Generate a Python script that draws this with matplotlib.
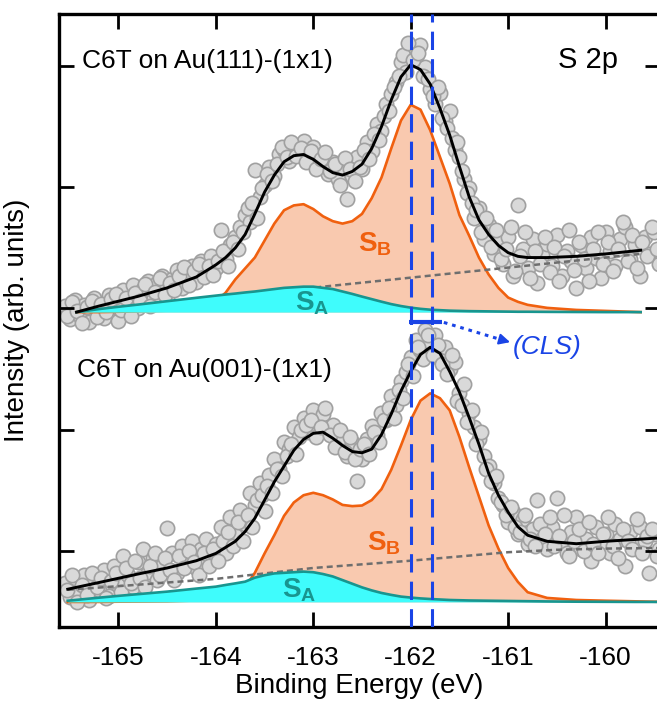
import matplotlib
matplotlib.use("Agg")
from matplotlib import pyplot as plt

plt.rcParams["font.family"] = ["Liberation Sans", "DejaVu Sans"]
plt.rcParams["axes.unicode_minus"] = False
plt.rcParams["mathtext.fontset"] = "custom"
plt.rcParams["mathtext.rm"] = "Liberation Sans"
plt.rcParams["mathtext.bf"] = "Liberation Sans:bold"

# measured points (binding energy, eV) shared by both spectra: the scan
# is split in two interleaved halves, "a" and "b"
scan_energy_a = [
    -165.55, -165.50, -165.45, -165.40, -165.35, -165.30, -165.25, -165.20, -165.15, -165.10,
    -165.05, -165.00, -164.95, -164.90, -164.85, -164.80, -164.75, -164.70, -164.65, -164.60,
    -164.55, -164.50, -164.45, -164.40, -164.35, -164.30, -164.25, -164.20, -164.15, -164.10,
    -164.05, -164.00, -163.95, -163.90, -163.85, -163.80, -163.75, -163.70, -163.65, -163.60,
    -163.55, -163.50, -163.45, -163.40, -163.35, -163.30, -163.25, -163.20, -163.15, -163.10,
    -163.05, -163.00, -162.95, -162.90, -162.85, -162.80, -162.75, -162.70, -162.65, -162.60,
    -162.55, -162.50, -162.45, -162.40, -162.35, -162.30, -162.25, -162.20, -162.15, -162.10,
    -162.05, -162.00, -161.95, -161.90, -161.85, -161.80, -161.75, -161.70, -161.65, -161.60,
    -161.55, -161.50, -161.45, -161.40, -161.35, -161.30, -161.25, -161.20, -161.15, -161.10,
    -161.05, -161.00, -160.95, -160.90, -160.85, -160.80, -160.75, -160.70, -160.65, -160.60,
    -160.55, -160.50, -160.45, -160.40, -160.35, -160.30, -160.25, -160.20, -160.15, -160.10,
    -160.05, -160.00, -159.95, -159.90, -159.85, -159.80, -159.75, -159.70, -159.65, -159.60,
    -159.55, -159.50, -159.45,
]
scan_energy_b = [
    -165.525, -165.475, -165.425, -165.375, -165.325, -165.275, -165.225, -165.175, -165.125, -165.075,
    -165.025, -164.975, -164.925, -164.875, -164.825, -164.775, -164.725, -164.675, -164.625, -164.575,
    -164.525, -164.475, -164.425, -164.375, -164.325, -164.275, -164.225, -164.175, -164.125, -164.075,
    -164.025, -163.975, -163.925, -163.875, -163.825, -163.775, -163.725, -163.675, -163.625, -163.575,
    -163.525, -163.475, -163.425, -163.375, -163.325, -163.275, -163.225, -163.175, -163.125, -163.075,
    -163.025, -162.975, -162.925, -162.875, -162.825, -162.775, -162.725, -162.675, -162.625, -162.575,
    -162.525, -162.475, -162.425, -162.375, -162.325, -162.275, -162.225, -162.175, -162.125, -162.075,
    -162.025, -161.975, -161.925, -161.875, -161.825, -161.775, -161.725, -161.675, -161.625, -161.575,
    -161.525, -161.475, -161.425, -161.375, -161.325, -161.275, -161.225, -161.175, -161.125, -161.075,
    -161.025, -160.975, -160.925, -160.875, -160.825, -160.775, -160.725, -160.675, -160.625, -160.575,
    -160.525, -160.475, -160.425, -160.375, -160.325, -160.275, -160.225, -160.175, -160.125, -160.075,
    -160.025, -159.975, -159.925, -159.875, -159.825, -159.775, -159.725, -159.675, -159.625, -159.575,
    -159.525, -159.475,
]

# --- C6T on Au(111)-(1x1) -------------------------------------------------
au111_counts_a = [
    0.05, -0.06, 0.10, -0.02, 0.06, -0.08, 0.12, 0.02, -0.05, 0.14,
    0.04, -0.07, 0.18, 0.07, 0.22, 0.03, 0.19, 0.26, 0.10, 0.24,
    0.30, 0.12, 0.27, 0.35, 0.20, 0.31, 0.38, 0.25, 0.42, 0.33,
    0.46, 0.36, 0.68, 0.44, 0.55, 0.62, 0.70, 0.80, 0.74, 1.17,
    0.95, 1.05, 1.20, 1.12, 1.30, 1.34, 1.25, 1.38, 1.33, 1.41,
    1.30, 1.36, 1.22, 1.30, 1.14, 1.24, 1.10, 1.20, 0.93, 1.12,
    1.28, 1.18, 1.40, 1.33, 1.55, 1.49, 1.72, 1.80, 1.90, 2.06,
    1.98, 2.17, 2.10, 2.20, 2.02, 1.84, 1.72, 1.81, 1.58, 1.66,
    1.34, 1.28, 1.10, 1.02, 0.78, 0.86, 0.60, 0.72, 0.48, 0.58,
    0.40, 0.62, 0.30, 0.88, 0.52, 0.36, 0.60, 0.24, 0.47, 0.56,
    0.38, 0.64, 0.30, 0.50, 0.42, 0.20, 0.55, 0.36, 0.62, 0.45,
    0.28, 0.66, 0.50, 0.38, 0.60, 0.70, 0.44, 0.55, 0.30, 0.62,
    0.48, 0.66, 0.40,
]
au111_counts_b = [
    -0.03, 0.08, 0.01, -0.09, 0.04, 0.09, -0.04, 0.07, 0.00, 0.11,
    0.15, 0.02, 0.12, -0.03, 0.16, 0.09, 0.23, 0.05, 0.17, 0.28,
    0.14, 0.24, 0.18, 0.30, 0.37, 0.22, 0.34, 0.40, 0.29, 0.38,
    0.31, 0.42, 0.50, 0.38, 0.58, 0.52, 0.66, 0.86, 0.90, 0.78,
    1.02, 1.14, 1.08, 1.22, 1.36, 1.28, 1.40, 1.29, 1.35, 1.24,
    1.33, 1.18, 1.26, 1.32, 1.16, 1.22, 1.05, 1.27, 1.18, 1.08,
    1.20, 1.34, 1.26, 1.47, 1.42, 1.62, 1.66, 1.86, 1.95, 2.12,
    2.22, 2.08, 2.14, 1.95, 1.92, 1.78, 1.86, 1.60, 1.52, 1.44,
    1.40, 1.16, 0.98, 0.90, 0.84, 0.66, 0.78, 0.54, 0.68, 0.44,
    0.52, 0.70, 0.34, 0.46, 0.66, 0.28, 0.50, 0.40, 0.62, 0.33,
    0.54, 0.26, 0.46, 0.68, 0.35, 0.58, 0.44, 0.26, 0.52, 0.66,
    0.40, 0.58, 0.34, 0.52, 0.74, 0.42, 0.64, 0.36, 0.58, 0.46,
    0.70, 0.52,
]

au111_fit_energy = [
    -165.43, -165.2, -165.0, -164.8, -164.5, -164.2, -164.0, -163.9, -163.8, -163.7,
    -163.6, -163.5, -163.4, -163.3, -163.2, -163.1, -163.0, -162.9, -162.8, -162.7,
    -162.6, -162.5, -162.4, -162.3, -162.2, -162.1, -162.0, -161.9, -161.8, -161.7,
    -161.6, -161.5, -161.4, -161.3, -161.2, -161.1, -161.0, -160.9, -160.8, -160.6,
    -160.3, -160.0, -159.64,
]
au111_envelope = [
    0.00, 0.05, 0.09, 0.13, 0.20, 0.29, 0.39, 0.45, 0.53, 0.64,
    0.81, 0.99, 1.13, 1.24, 1.29, 1.30, 1.26, 1.20, 1.15, 1.13,
    1.16, 1.22, 1.35, 1.53, 1.75, 1.94, 2.04, 2.00, 1.88, 1.68,
    1.46, 1.20, 0.95, 0.76, 0.64, 0.55, 0.49, 0.46, 0.45, 0.45,
    0.46, 0.48, 0.51,
]
au111_sb = [
    0.0, 0.0, 0.003, 0.006, 0.012, 0.04, 0.09, 0.16, 0.27, 0.36,
    0.45, 0.59, 0.73, 0.84, 0.88, 0.89, 0.85, 0.79, 0.75, 0.73,
    0.75, 0.81, 0.94, 1.11, 1.35, 1.58, 1.71, 1.67, 1.50, 1.28,
    1.06, 0.80, 0.63, 0.45, 0.31, 0.20, 0.12, 0.085, 0.06, 0.035,
    0.018, 0.01, 0.0,
]
au111_sa = [
    0.0, 0.025, 0.044, 0.062, 0.09, 0.118, 0.136, 0.145, 0.153, 0.162,
    0.17, 0.18, 0.19, 0.20, 0.205, 0.21, 0.21, 0.20, 0.19, 0.17,
    0.15, 0.128, 0.107, 0.086, 0.066, 0.05, 0.037, 0.027, 0.02, 0.016,
    0.012, 0.01, 0.008, 0.007, 0.006, 0.005, 0.004, 0.003, 0.003, 0.002,
    0.001, 0.0, 0.0,
]
au111_bg_energy = [-165.43, -159.64]
au111_bg = [0.0, 0.48]

# --- C6T on Au(001)-(1x1) -------------------------------------------------
au001_counts_a = [
    0.16, 0.04, 0.20, 0.08, 0.22, 0.02, 0.18, 0.10, 0.26, 0.05,
    0.30, 0.14, 0.38, 0.22, 0.12, 0.33, 0.44, 0.25, 0.36, 0.18,
    0.30, 0.61, 0.40, 0.24, 0.46, 0.34, 0.50, 0.28, 0.44, 0.52,
    0.36, 0.48, 0.62, 0.40, 0.70, 0.55, 0.76, 0.64, 0.90, 0.80,
    0.98, 0.75, 1.05, 1.18, 1.10, 1.32, 1.26, 1.44, 1.36, 1.52,
    1.40, 1.58, 1.48, 1.55, 1.42, 1.46, 1.30, 1.36, 1.20, 1.32,
    1.00, 1.18, 1.34, 1.45, 1.38, 1.56, 1.50, 1.70, 1.62, 1.82,
    1.90, 2.02, 2.16, 2.08, 2.24, 2.14, 2.20, 2.00, 2.10, 1.92,
    1.98, 1.72, 1.80, 1.56, 1.44, 1.34, 1.20, 1.12, 0.98, 0.86,
    0.80, 0.66, 0.74, 0.56, 0.68, 0.48, 0.60, 0.84, 0.52, 0.44,
    0.62, 0.86, 0.50, 0.40, 0.58, 0.70, 0.44, 0.52, 0.34, 0.62,
    0.48, 0.56, 0.40, 0.64, 0.52, 0.30, 0.58, 0.46, 0.62, 0.50,
    0.24, 0.56, 0.44,
]
au001_counts_b = [
    0.10, 0.22, 0.00, 0.14, 0.06, 0.24, 0.12, 0.20, 0.03, 0.17,
    0.24, 0.08, 0.28, 0.16, 0.34, 0.20, 0.12, 0.30, 0.40, 0.22,
    0.36, 0.26, 0.18, 0.38, 0.28, 0.42, 0.33, 0.22, 0.40, 0.30,
    0.44, 0.34, 0.50, 0.58, 0.46, 0.66, 0.50, 0.72, 0.62, 0.84,
    0.88, 0.96, 0.90, 1.10, 1.04, 1.20, 1.30, 1.22, 1.42, 1.46,
    1.50, 1.36, 1.44, 1.60, 1.38, 1.28, 1.42, 1.24, 1.36, 1.18,
    1.26, 1.30, 1.22, 1.40, 1.32, 1.50, 1.60, 1.52, 1.75, 1.68,
    1.96, 1.86, 2.10, 2.00, 2.20, 2.04, 2.12, 1.96, 1.88, 2.04,
    1.66, 1.62, 1.48, 1.58, 1.30, 1.40, 1.10, 1.00, 1.04, 0.82,
    0.72, 0.78, 0.62, 0.58, 0.72, 0.52, 0.46, 0.64, 0.56, 0.70,
    0.46, 0.54, 0.72, 0.38, 0.50, 0.60, 0.42, 0.66, 0.48, 0.40,
    0.56, 0.70, 0.46, 0.36, 0.60, 0.50, 0.44, 0.68, 0.40, 0.54,
    0.60, 0.38,
]

au001_fit_energy = [
    -165.52, -165.2, -165.0, -164.8, -164.5, -164.2, -164.0, -163.9, -163.8, -163.7,
    -163.6, -163.5, -163.4, -163.3, -163.2, -163.1, -163.0, -162.9, -162.8, -162.7,
    -162.6, -162.5, -162.4, -162.3, -162.2, -162.1, -162.0, -161.9, -161.8, -161.7,
    -161.6, -161.5, -161.4, -161.3, -161.2, -161.1, -161.0, -160.9, -160.8, -160.6,
    -160.3, -160.0, -159.7, -159.4,
]
au001_envelope = [
    0.105, 0.16, 0.195, 0.23, 0.28, 0.34, 0.40, 0.45, 0.50, 0.58,
    0.69, 0.84, 0.99, 1.12, 1.25, 1.34, 1.39, 1.40, 1.35, 1.29,
    1.24, 1.23, 1.26, 1.38, 1.55, 1.74, 1.90, 2.04, 2.10, 2.05,
    1.90, 1.73, 1.52, 1.30, 1.06, 0.88, 0.74, 0.62, 0.55, 0.50,
    0.48, 0.50, 0.515, 0.53,
]
au001_sb = [
    0.0, 0.0, 0.002, 0.003, 0.005, 0.012, 0.02, 0.035, 0.06, 0.12,
    0.24, 0.40, 0.55, 0.71, 0.82, 0.88, 0.90, 0.88, 0.845, 0.80,
    0.79, 0.795, 0.84, 0.93, 1.09, 1.29, 1.50, 1.66, 1.72, 1.68,
    1.58, 1.36, 1.11, 0.87, 0.63, 0.44, 0.28, 0.165, 0.08, 0.033,
    0.016, 0.01, 0.005, 0.0,
]
au001_sa = [
    0.01, 0.035, 0.05, 0.064, 0.085, 0.11, 0.126, 0.14, 0.153, 0.167,
    0.20, 0.22, 0.235, 0.24, 0.245, 0.25, 0.245, 0.23, 0.21, 0.18,
    0.15, 0.12, 0.095, 0.074, 0.058, 0.044, 0.036, 0.029, 0.024, 0.02,
    0.016, 0.014, 0.012, 0.011, 0.01, 0.009, 0.008, 0.007, 0.006, 0.004,
    0.002, 0.001, 0.0, 0.0,
]
au001_bg_energy = [-165.52, -165.0, -164.5, -164.0, -163.5, -163.0, -162.5,
                   -162.0, -161.5, -161.0, -160.5, -160.0, -159.4]
au001_bg = [0.10, 0.13, 0.16, 0.19, 0.235, 0.28, 0.31, 0.34, 0.375, 0.41,
            0.43, 0.44, 0.445]

# S 2p3/2 positions of the two surfaces (core level shift)
peak_111 = -162.0
peak_001 = -161.78

# vertical stacking of the two spectra
offset_111 = 2.97
offset_001 = 0.58

BLUE = "#1a44e6"


def shifted(values, offset):
    return [offset + v for v in values]


def draw_spectrum(ax, counts_a, counts_b, fit_e, envelope, sb, sa, bg_e, bg, offset):
    # raw data sits underneath the fitted components
    for energy, counts in ((scan_energy_a, counts_a), (scan_energy_b, counts_b)):
        ax.plot(energy, shifted(counts, offset), "o", ms=10.3, mfc="#d9d9d9",
                mec="#a0a0a0", mew=1.2, zorder=1.5)
    ax.fill_between(fit_e, offset, shifted(sb, offset), color="#f9c9af", lw=0, zorder=2)
    ax.plot(fit_e, shifted(sb, offset), color="#f0600f", lw=1.9, zorder=2.2)
    ax.plot(bg_e, shifted(bg, offset), color="#6e6e6e", lw=1.8,
            ls=(0, (2.4, 1.6)), zorder=2.5)
    ax.fill_between(fit_e, offset, shifted(sa, offset), color="#3ffcfc", lw=0, zorder=3)
    ax.plot(fit_e, shifted(sa, offset), color="#18958f", lw=1.9, zorder=3.2)
    ax.plot(fit_e, shifted(envelope, offset), color="black", lw=2.1, zorder=5)


fig = plt.figure(figsize=(6.57, 7.02), dpi=100)
ax = fig.add_axes([0.0898, 0.1068, 0.915, 0.873])

draw_spectrum(ax, au111_counts_a, au111_counts_b, au111_fit_energy, au111_envelope,
              au111_sb, au111_sa, au111_bg_energy, au111_bg, offset_111)
draw_spectrum(ax, au001_counts_a, au001_counts_b, au001_fit_energy, au001_envelope,
              au001_sb, au001_sa, au001_bg_energy, au001_bg, offset_001)

# core level shift markers
for x in (peak_111, peak_001):
    ax.axvline(x, color=BLUE, lw=2.2, ls=(0, (6, 3)), zorder=6)
ax.plot([peak_111 - 0.02, peak_001 + 0.1], [2.888, 2.888], color=BLUE,
        lw=3.0, solid_capstyle="butt", zorder=6)
ax.plot([peak_001 + 0.12, -161.04], [2.885, 2.735], color=BLUE, lw=2.2,
        ls=(0, (1.2, 1.6)), zorder=6)
ax.annotate("", xy=(-160.98, 2.722), xytext=(-161.06, 2.74),
            arrowprops=dict(arrowstyle="-|>", color=BLUE, lw=1.5,
                            mutation_scale=16, shrinkA=0, shrinkB=0), zorder=6)
ax.text(-160.60, 2.68, "(CLS)", color=BLUE, fontsize=19, style="italic",
        ha="center", va="center", zorder=6)

# annotations
ax.text(-165.37, 5.04, "C6T on Au(111)-(1x1)", fontsize=19, ha="left", va="center")
ax.text(-165.43, 2.49, "C6T on Au(001)-(1x1)", fontsize=19, ha="left", va="center")
ax.text(-160.18, 5.05, "S 2p", fontsize=21, ha="center", va="center")
ax.text(-162.37, 3.53, r"$\mathbf{S_B}$", color="#f0600f", fontsize=20,
        ha="center", va="center", zorder=7)
ax.text(-163.01, 3.04, r"$\mathbf{S_A}$", color="#18958f", fontsize=20,
        ha="center", va="center", zorder=7)
ax.text(-162.27, 1.066, r"$\mathbf{S_B}$", color="#f0600f", fontsize=20,
        ha="center", va="center", zorder=7)
ax.text(-163.15, 0.68, r"$\mathbf{S_A}$", color="#18958f", fontsize=20,
        ha="center", va="center", zorder=7)

ax.set_xlim(-165.61, -159.44)
ax.set_ylim(0.373, 5.427)
ax.set_xticks([-165, -164, -163, -162, -161, -160])
ax.set_yticks([1, 2, 3, 4, 5])
ax.set_yticklabels([])
ax.tick_params(direction="in", length=11, width=2.0, top=True, right=True,
               labelsize=19, pad=14)
for side in ax.spines.values():
    side.set_linewidth(2.4)
ax.set_xlabel("Binding Energy (eV)", fontsize=20, labelpad=2)
ax.set_ylabel("Intensity (arb. units)", fontsize=20, labelpad=7)

fig.savefig("out.png", dpi=100)
